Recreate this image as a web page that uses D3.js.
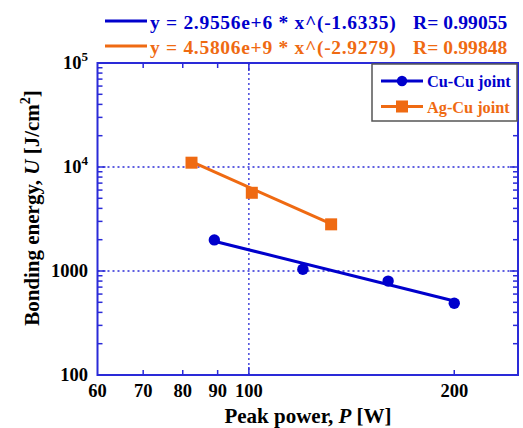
<!DOCTYPE html>
<html>
<head>
<meta charset="utf-8">
<script src="https://cdn.jsdelivr.net/npm/d3@7"></script>
<style>
  body { margin: 0; background: #fff; }
</style>
</head>
<body>
<div id="chart"></div>
<script>
const W = 523, H = 428;
const margin = { top: 63, right: 5, bottom: 53, left: 97.5 };

// data
const cuPower = [89, 120, 160, 200];
const cuEnergy = [1990, 1040, 800, 490];
const agPower = [82.4, 101, 132];
const agEnergy = [11000, 5650, 2810];

// fitted power-law lines (end points)
const cuFitPower = [89, 200];
const cuFitEnergy = [1933, 515];
const agFitPower = [82.4, 132];
const agFitEnergy = [11250, 2834];

const fitLabels = ["y = 2.9556e+6 * x^(-1.6335)", "y = 4.5806e+9 * x^(-2.9279)"];
const fitR = ["R= 0.99055", "R= 0.99848"];
const seriesNames = ["Cu-Cu joint", "Ag-Cu joint"];
const colors = ["#0000cc", "#ef6a12"];

const xTicks = [60, 70, 80, 90, 100, 200];
const yMajor = [100, 1000, 10000, 100000];

const FONT = "Liberation Serif";

const x = d3.scaleLog().domain([60, 248]).range([margin.left, W - margin.right]);
const y = d3.scaleLog().domain([100, 100000]).range([H - margin.bottom, margin.top]);

const svg = d3.select("#chart").append("svg")
  .attr("width", W).attr("height", H);

function label(sel) {
  return sel.append("text").attr("font-family", FONT).attr("font-weight", "bold");
}

const x0 = x.range()[0], x1 = x.range()[1];
const y0 = y.range()[0], y1 = y.range()[1];
const axisCol = "#2a2ad8";

// grid lines (dotted)
const grid = svg.append("g").attr("stroke", axisCol).attr("stroke-width", 1.3).attr("stroke-dasharray", "2,3");
grid.append("line").attr("x1", x(100)).attr("x2", x(100)).attr("y1", y0).attr("y2", y1);
[1000, 10000].forEach(v => {
  grid.append("line").attr("x1", x0).attr("x2", x1).attr("y1", y(v)).attr("y2", y(v));
});

// minor / major ticks, inward on all four sides
const ticks = svg.append("g").attr("stroke", axisCol).attr("stroke-width", 1.5);
const yMinor = [];
[100, 1000, 10000].forEach(d => { for (let k = 2; k <= 9; k++) yMinor.push(d * k); });
yMinor.forEach(v => {
  ticks.append("line").attr("x1", x0).attr("x2", x0 + 5).attr("y1", y(v)).attr("y2", y(v));
  ticks.append("line").attr("x1", x1).attr("x2", x1 - 5).attr("y1", y(v)).attr("y2", y(v));
});
yMajor.forEach(v => {
  ticks.append("line").attr("x1", x0).attr("x2", x0 + 8).attr("y1", y(v)).attr("y2", y(v));
  ticks.append("line").attr("x1", x1).attr("x2", x1 - 8).attr("y1", y(v)).attr("y2", y(v));
});
xTicks.filter(v => v !== 60).forEach(v => {
  const len = v === 100 ? 8 : 5;
  ticks.append("line").attr("x1", x(v)).attr("x2", x(v)).attr("y1", y0).attr("y2", y0 - len);
  ticks.append("line").attr("x1", x(v)).attr("x2", x(v)).attr("y1", y1).attr("y2", y1 + len);
});

// frame
svg.append("rect")
  .attr("x", x0).attr("y", y1)
  .attr("width", x1 - x0).attr("height", y0 - y1)
  .attr("fill", "none").attr("stroke", axisCol).attr("stroke-width", 2);

// fit lines
const line = d3.line().x(d => x(d[0])).y(d => y(d[1]));
[[cuFitPower, cuFitEnergy], [agFitPower, agFitEnergy]].forEach(([p, e], i) => {
  svg.append("path")
    .datum(d3.zip(p, e))
    .attr("d", line)
    .attr("fill", "none").attr("stroke", colors[i]).attr("stroke-width", 3);
});

// markers
svg.append("g").selectAll("circle")
  .data(d3.zip(cuPower, cuEnergy))
  .join("circle")
  .attr("cx", d => x(d[0])).attr("cy", d => y(d[1]))
  .attr("r", 5.7).attr("fill", colors[0]);

svg.append("g").selectAll("rect")
  .data(d3.zip(agPower, agEnergy))
  .join("rect")
  .attr("x", d => x(d[0]) - 6).attr("y", d => y(d[1]) - 6)
  .attr("width", 12).attr("height", 12).attr("fill", colors[1]);

// x tick labels
xTicks.forEach(v => {
  label(svg).attr("x", x(v)).attr("y", 397)
    .attr("text-anchor", "middle").attr("font-size", 18.5)
    .text(v);
});

// y tick labels
yMajor.forEach(v => {
  const t = label(svg)
    .attr("x", 88).attr("y", y(v) + 6)
    .attr("text-anchor", "end").attr("font-size", 18.5);
  if (v >= 10000) {
    t.append("tspan").text("10");
    t.append("tspan").attr("font-size", 13).attr("dy", -8).text(Math.log10(v));
  } else {
    t.text(v);
  }
});

// axis titles
const xt = label(svg)
  .attr("x", 308).attr("y", 423)
  .attr("text-anchor", "middle").attr("font-size", 21);
xt.append("tspan").text("Peak power, ");
xt.append("tspan").attr("font-style", "italic").text("P");
xt.append("tspan").text(" [W]");

const yt = label(svg)
  .attr("transform", "translate(38.5,208) rotate(-90)")
  .attr("text-anchor", "middle").attr("font-size", 21);
yt.append("tspan").text("Bonding energy, ");
yt.append("tspan").attr("font-style", "italic").text("U");
yt.append("tspan").text(" [J/cm");
yt.append("tspan").attr("font-size", 14).attr("dy", -9).text("2");
yt.append("tspan").attr("dy", 9).text("]");

// fit equations on top
fitLabels.forEach((lab, i) => {
  const ly = 21 + i * 25;
  svg.append("line")
    .attr("x1", 105).attr("x2", 147).attr("y1", ly).attr("y2", ly)
    .attr("stroke", colors[i]).attr("stroke-width", 3);
  label(svg)
    .attr("x", 150).attr("y", ly + 8)
    .attr("font-size", 19.5).attr("letter-spacing", 0.7).attr("fill", colors[i])
    .text(lab);
  label(svg)
    .attr("x", 413).attr("y", ly + 8)
    .attr("font-size", 19.5).attr("letter-spacing", 0.1).attr("fill", colors[i])
    .text(fitR[i]);
});

// legend
const lg = svg.append("g");
lg.append("rect")
  .attr("x", 372).attr("y", 64).attr("width", 145).attr("height", 57)
  .attr("fill", "#fff").attr("stroke", "#555").attr("stroke-width", 1.5);
seriesNames.forEach((name, i) => {
  const ly = 81 + i * 25.5;
  lg.append("line")
    .attr("x1", 381).attr("x2", 423).attr("y1", ly).attr("y2", ly)
    .attr("stroke", colors[i]).attr("stroke-width", 3);
  if (i === 0) {
    lg.append("circle").attr("cx", 402).attr("cy", ly).attr("r", 5.2).attr("fill", colors[i]);
  } else {
    lg.append("rect").attr("x", 396).attr("y", ly - 6).attr("width", 12).attr("height", 12).attr("fill", colors[i]);
  }
  label(lg)
    .attr("x", 427).attr("y", ly + 6)
    .attr("font-size", 16.3).attr("fill", colors[i])
    .text(name);
});
</script>
</body>
</html>
